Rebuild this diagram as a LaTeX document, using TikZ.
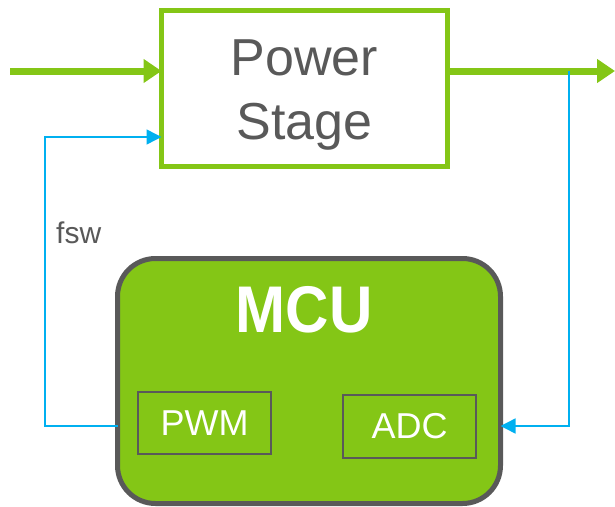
\documentclass[tikz,border=0pt]{standalone}
\usepackage{fontspec}
\setmainfont{Liberation Sans}
\usetikzlibrary{arrows.meta}
\definecolor{psgreen}{RGB}{132,198,22}
\definecolor{dgrey}{RGB}{89,89,89}
\definecolor{sigblue}{RGB}{0,176,240}
\tikzset{
  greenarrow/.style={draw=psgreen, line width=7pt, -{Triangle[length=18pt,width=23pt]}},
  blueline/.style={draw=sigblue, line width=1.5pt},
  bluearrow/.style={blueline, -{Triangle[length=15pt,width=15pt]}},
  subbox/.style={draw=dgrey, line width=2pt, minimum width=133pt, minimum height=62pt, inner sep=0pt, outer sep=0pt, text=white, font=\fontsize{36}{40}\selectfont},
}
\begin{document}
\begin{tikzpicture}[x=1pt,y=-1pt]
\useasboundingbox (0,0) rectangle (615,506);
% Power stage
\node[draw=psgreen, line width=5pt, minimum width=286pt, minimum height=156pt, inner sep=0pt, outer sep=0pt] (ps) at (304.5,88.5) {};
\node[text=dgrey, align=center, inner sep=0pt, font=\fontsize{52}{64}\selectfont] (pstext) at (304.5,95) {Power\\Stage};
% MCU
\node[draw=dgrey, fill=psgreen, line width=5pt, rounded corners=38pt, minimum width=383pt, minimum height=245pt, inner sep=0pt, outer sep=0pt] (mcu) at (309,381) {};
\node[anchor=base, text=white, inner sep=0pt, font=\fontsize{66}{70}\selectfont\bfseries] (mcutext) at (304,332) {\scalebox{0.91}[1]{MCU}};
\node[subbox] (pwm) at (204.5,423) {PWM};
\node[subbox, minimum height=63pt] (adc) at (409.5,426.5) {ADC};
% label
\node[anchor=base west, text=dgrey, inner sep=0pt, font=\fontsize{30}{34}\selectfont] (fsw) at (56,243) {fsw};
% coordinates
\coordinate (in) at (10,71);
\coordinate (out) at (615,71);
\coordinate (tap) at (569,71);
\coordinate (fbx) at (45,137);
\coordinate (sigy) at (0,426);
% connectors
\draw[greenarrow] (in) -- (ps.west |- in);
\draw[greenarrow] (ps.east |- out) -- (out);
\draw[bluearrow] (mcu.west |- sigy) -| (fbx) -- (ps.west |- fbx);
\draw[bluearrow] (tap) |- (mcu.east |- sigy);
\end{tikzpicture}
\end{document}
